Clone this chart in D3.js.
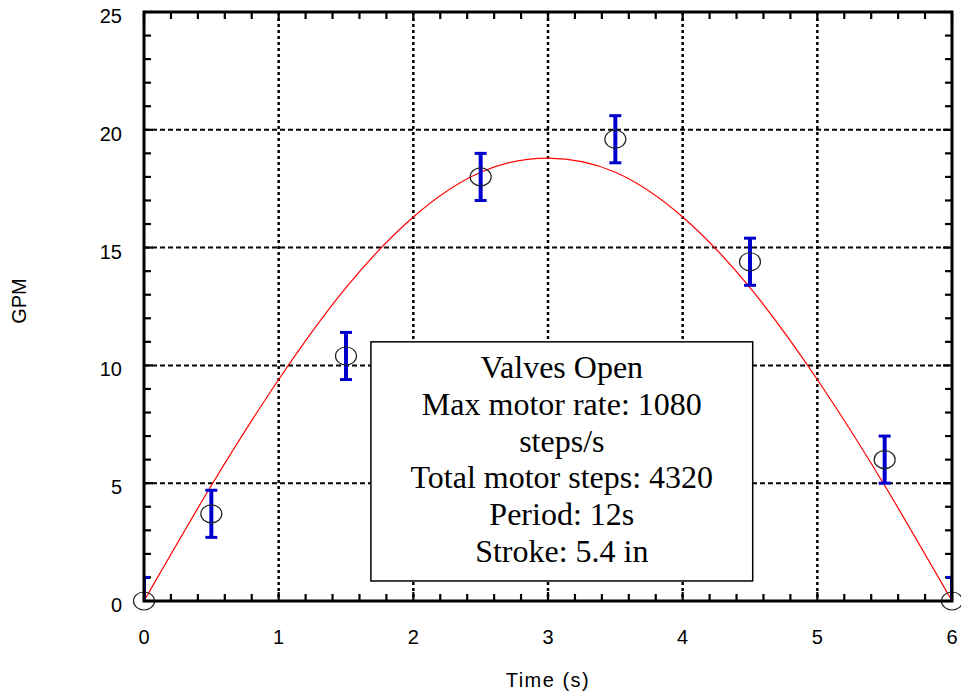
<!DOCTYPE html>
<html>
<head>
<meta charset="utf-8">
<script src="https://cdn.jsdelivr.net/npm/d3@7/dist/d3.min.js"></script>
<style>
  body { margin: 0; background: #fff; }
  text { font-family: "Liberation Sans", Arial, sans-serif; }
</style>
</head>
<body>
<svg id="chart" width="961" height="698"></svg>
<script>
// measured points (Time s, GPM) with +/- error
const pointTime = [0, 0.5, 1.5, 2.5, 3.5, 4.5, 5.5, 6];
const pointGpm = [0, 3.7, 10.4, 18.0, 19.6, 14.4, 6.0, 0];
const pointErr = [1, 1, 1, 1, 1, 1, 1, 1];

// fitted curve
const curveTime = [0, 0.5, 1, 1.5, 2, 2.5, 3, 3.5, 4, 4.5, 5, 5.5, 6];
const curveGpm = [0, 4.9, 9.4, 13.3, 16.3, 18.2, 18.8, 18.2, 16.3, 13.3, 9.4, 4.9, 0];

const xTicks = [0, 1, 2, 3, 4, 5, 6];
const yTicks = [0, 5, 10, 15, 20, 25];

const noteLines = [
  'Valves Open',
  'Max motor rate: 1080',
  'steps/s',
  'Total motor steps: 4320',
  'Period: 12s',
  'Stroke: 5.4 in'
];

// set the dimensions and margins of the graph
var margin = { top: 12, right: 9, bottom: 97, left: 144 },
  width = 961 - margin.left - margin.right,
  height = 698 - margin.top - margin.bottom;

let svg = d3
  .select('#chart')
  .append('g')
  .attr('transform', 'translate(' + margin.left + ',' + margin.top + ')');

const x = d3.scaleLinear().domain([0, 6]).range([0, width]);
const y = d3.scaleLinear().domain([0, 25]).range([height, 0]);

svg.append('clipPath').attr('id', 'plotclip')
  .append('rect').attr('width', width).attr('height', height);

// grid lines
svg.selectAll('.vgrid')
  .data(xTicks.slice(1, -1))
  .enter()
  .append('line')
  .attr('x1', (d) => x(d)).attr('x2', (d) => x(d))
  .attr('y1', 0).attr('y2', height)
  .style('stroke', '#000')
  .style('stroke-width', 2.5)
  .style('stroke-dasharray', '3,3');

svg.selectAll('.hgrid')
  .data(yTicks.slice(1, -1))
  .enter()
  .append('line')
  .attr('x1', 0).attr('x2', width)
  .attr('y1', (d) => y(d)).attr('y2', (d) => y(d))
  .style('stroke', '#000')
  .style('stroke-width', 2)
  .style('stroke-dasharray', '5,3');

// minor + major ticks, inward on all sides
const xMinor = d3.range(0, 6.0001, 0.2);
const yMinor = d3.range(0, 25.0001, 1);
function tickLen(v, step) { return Math.abs(v / step - Math.round(v / step)) < 1e-6 ? 9 : 7; }

[0, height].forEach(function (yy) {
  svg.selectAll(null)
    .data(xMinor)
    .enter()
    .append('line')
    .attr('x1', (d) => x(d)).attr('x2', (d) => x(d))
    .attr('y1', yy).attr('y2', (d) => yy + (yy === 0 ? 1 : -1) * tickLen(d, 1))
    .style('stroke', '#000').style('stroke-width', 2.2);
});
[0, width].forEach(function (xx) {
  svg.selectAll(null)
    .data(yMinor)
    .enter()
    .append('line')
    .attr('y1', (d) => y(d)).attr('y2', (d) => y(d))
    .attr('x1', xx).attr('x2', (d) => xx + (xx === 0 ? 1 : -1) * tickLen(d, 5))
    .style('stroke', '#000').style('stroke-width', 2.2);
});

// note box
const box = svg.append('g');
box.append('rect')
  .attr('x', x(1.685)).attr('y', y(11.0))
  .attr('width', x(4.52) - x(1.685)).attr('height', y(0.85) - y(11.0))
  .style('fill', '#fff').style('stroke', '#000').style('stroke-width', 1.5);
box.selectAll('text')
  .data(noteLines)
  .enter()
  .append('text')
  .attr('x', (x(1.685) + x(4.52)) / 2)
  .attr('y', (d, i) => 366 + i * 36.8)
  .attr('text-anchor', 'middle')
  .style('font-family', '"Liberation Serif", "Times New Roman", serif')
  .style('font-size', '32px')
  .text((d) => d);

// fitted curve
const line = d3.line()
  .x((d, i) => x(curveTime[i]))
  .y((d) => y(d))
  .curve(d3.curveNatural);
svg.append('path')
  .attr('d', line(curveGpm))
  .attr('fill', 'none')
  .style('stroke', '#ff0000')
  .style('stroke-width', 1.2);

// error bars
const bars = svg.append('g').attr('clip-path', 'url(#plotclip)');
pointGpm.forEach(function (v, i) {
  const cx = x(pointTime[i]);
  const lo = y(v - pointErr[i]), hi = y(v + pointErr[i]);
  bars.append('line').attr('x1', cx).attr('x2', cx).attr('y1', lo).attr('y2', hi)
    .style('stroke', '#0000cc').style('stroke-width', 4);
  [lo, hi].forEach(function (yy) {
    bars.append('line').attr('x1', cx - 6).attr('x2', cx + 6).attr('y1', yy).attr('y2', yy)
      .style('stroke', '#0000cc').style('stroke-width', 3);
  });
});

// circles
svg.selectAll('ellipse')
  .data(pointGpm)
  .enter()
  .append('ellipse')
  .attr('cx', (d, i) => x(pointTime[i]))
  .attr('cy', (d) => y(d))
  .attr('rx', 10.5)
  .attr('ry', 9)
  .style('fill', 'none')
  .style('stroke', '#222')
  .style('stroke-width', 1.2);

// frame
svg.append('rect')
  .attr('width', width).attr('height', height)
  .style('fill', 'none').style('stroke', '#000').style('stroke-width', 3);

// tick labels
svg.selectAll('.xlab')
  .data(xTicks)
  .enter()
  .append('text')
  .attr('x', (d) => x(d))
  .attr('y', height + 43)
  .attr('text-anchor', 'middle')
  .style('font-size', '20px')
  .text((d) => d);

svg.selectAll('.ylab')
  .data(yTicks)
  .enter()
  .append('text')
  .attr('x', -22)
  .attr('y', (d) => y(d) + 11)
  .attr('text-anchor', 'end')
  .style('font-size', '20px')
  .text((d) => d);

// axis titles
svg.append('text')
  .attr('x', width / 2)
  .attr('y', height + 86)
  .attr('text-anchor', 'middle')
  .style('font-size', '20px')
  .style('letter-spacing', '1.5px')
  .text('Time (s)');

svg.append('text')
  .attr('transform', 'translate(' + (-118) + ',' + 289 + ') rotate(-90)')
  .attr('text-anchor', 'middle')
  .style('font-size', '20px')
  .text('GPM');
</script>
</body>
</html>
